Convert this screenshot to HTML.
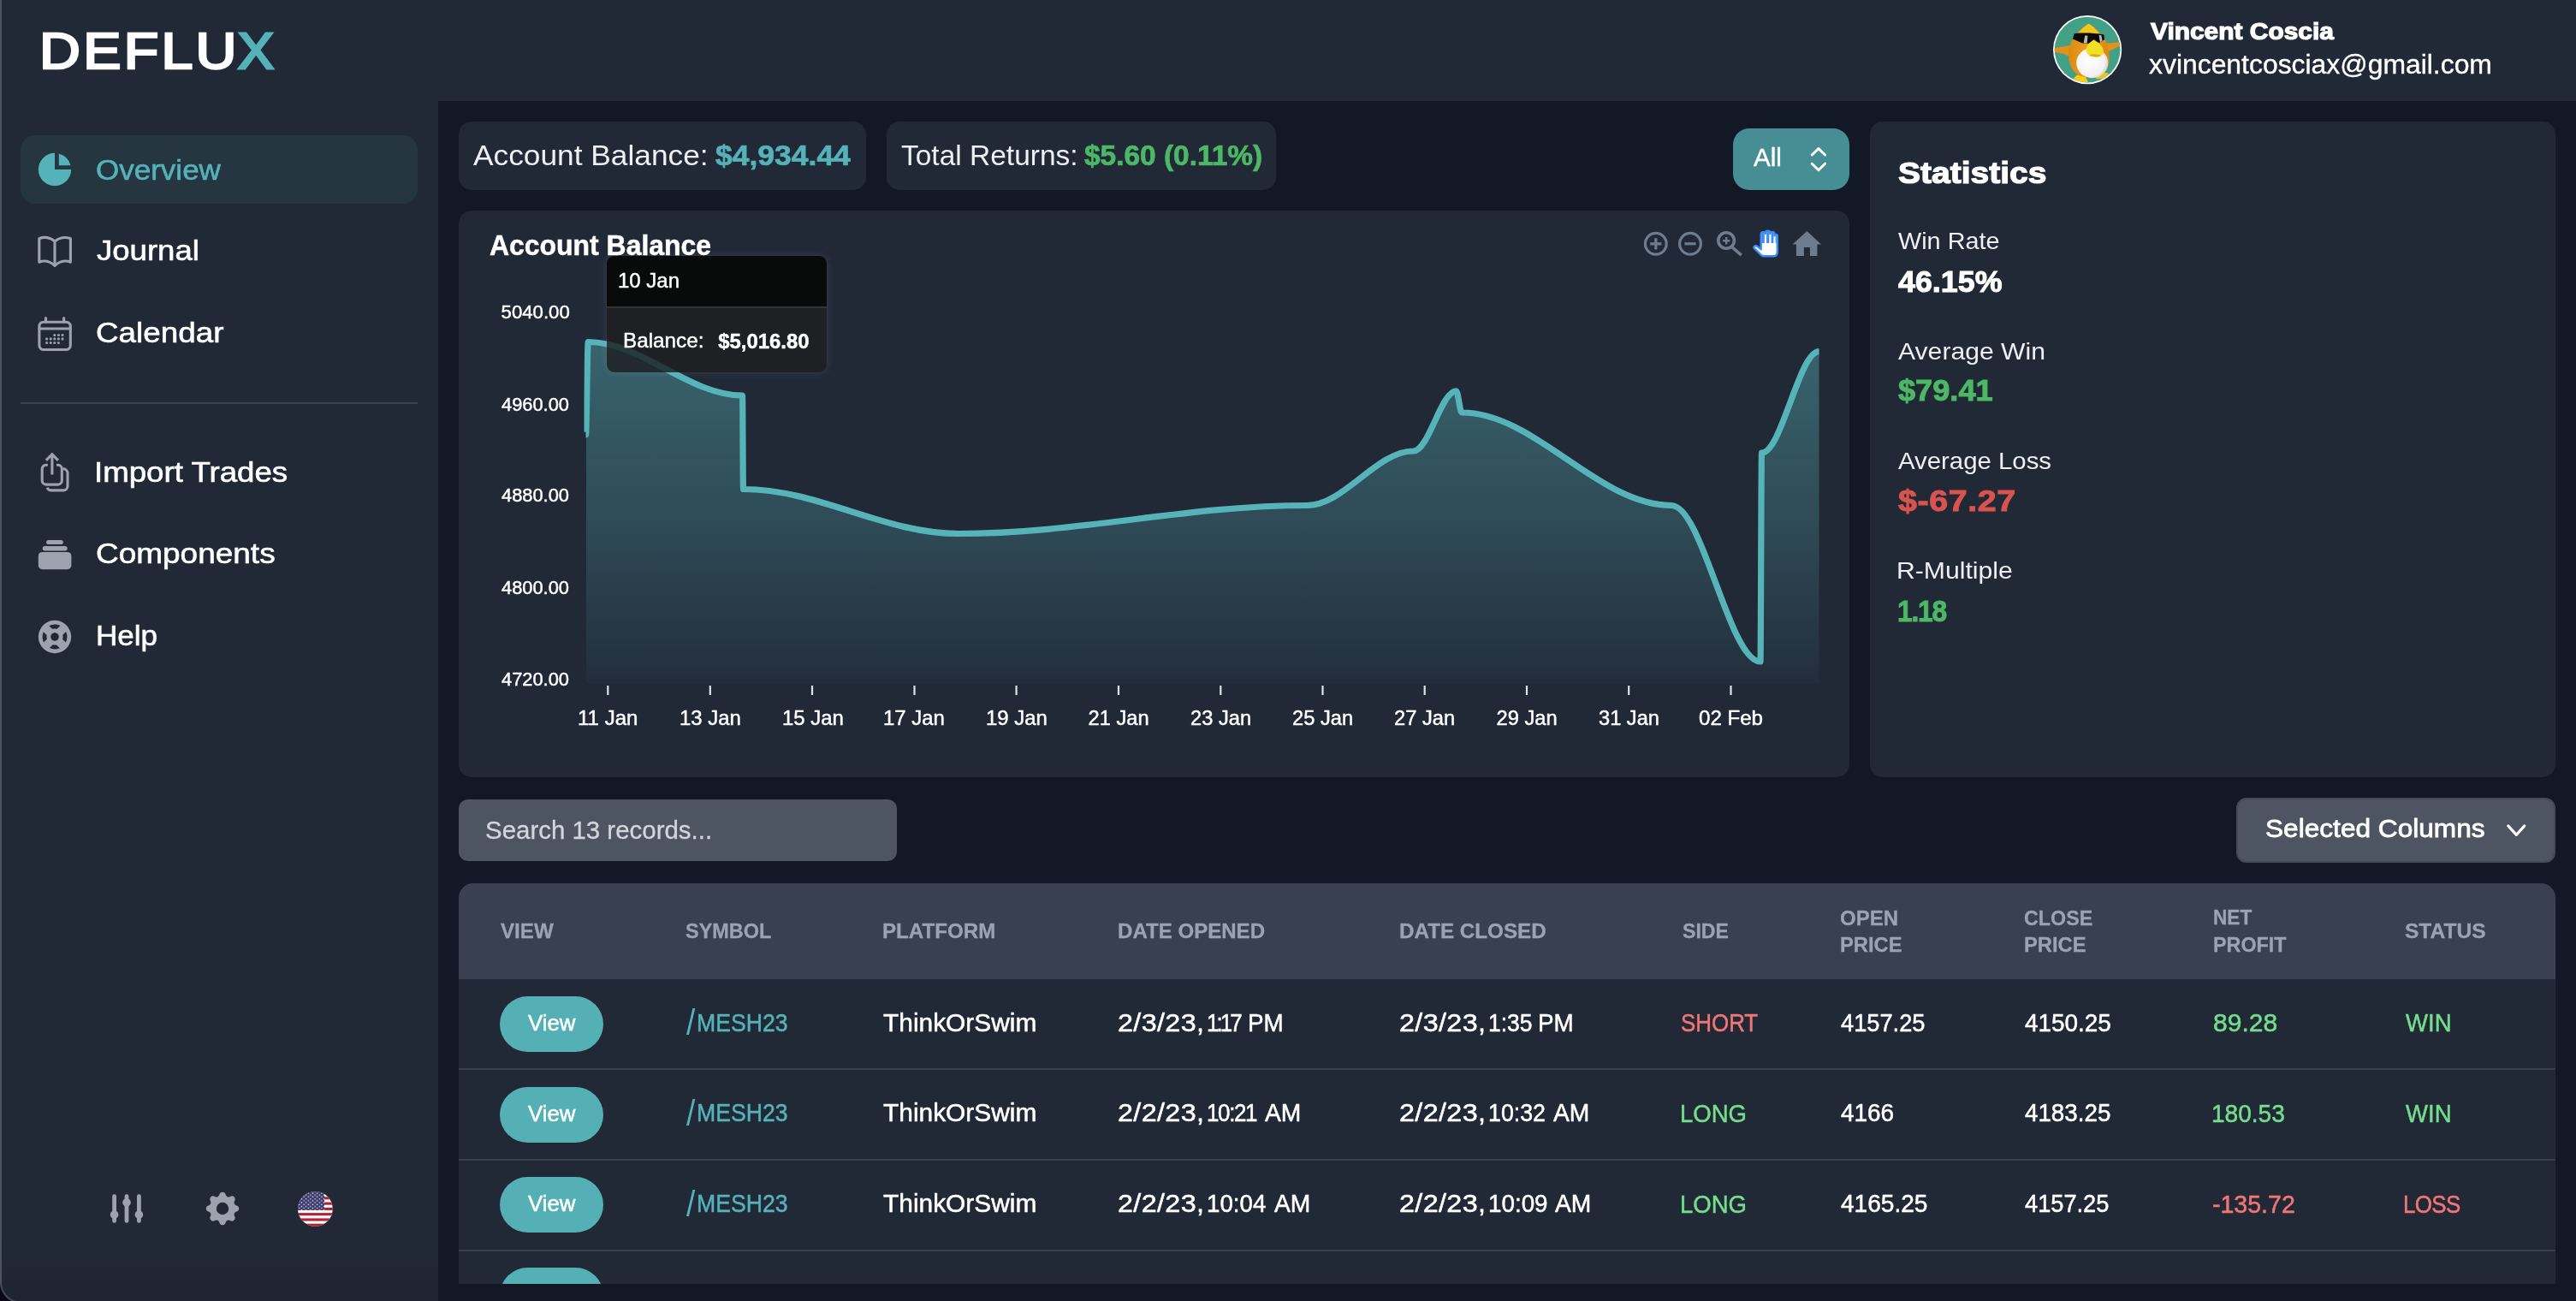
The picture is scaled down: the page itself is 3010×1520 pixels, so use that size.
<!DOCTYPE html>
<html lang="en">
<head>
<meta charset="utf-8">
<title>Deflux - Overview</title>
<style>
*{box-sizing:border-box;margin:0;padding:0}
html,body{width:3010px;height:1520px;overflow:hidden;background:#0a0818}
body{font-family:"Liberation Sans",sans-serif;color:#fff;position:relative}
.abs{position:absolute}
.t{position:absolute;white-space:nowrap;line-height:1;transform-origin:0 0}
#app{position:absolute;left:0;top:0;width:3010px;height:1523px;background:#212836;border-left:2px solid #4b5260;border-bottom:2px solid #4b5260;border-bottom-left-radius:25px;overflow:hidden}
#content{position:absolute;left:510px;top:118px;width:2500px;height:1402px;background:#121826}
.vb{left:48px;width:121px;height:65px;border-radius:33px;background:#55b0b5}
#tx{position:absolute;left:0;top:0;width:3010px;height:1520px;will-change:transform}
.sg{display:inline-block;transform-origin:0 0;line-height:1;vertical-align:top}
.card{position:absolute;background:#212836;border-radius:15px}
svg{position:absolute;overflow:visible}
</style>
</head>
<body>
<div id="app">
<div id="content"></div>
</div>

<!-- ===== sidebar ===== -->
<div class="abs" style="left:24px;top:158px;width:464px;height:80px;border-radius:17px;background:#263641"></div>
<div class="abs" style="left:24px;top:470px;width:464px;height:2px;background:#3a4152"></div>

<div class="abs" style="left:2px;top:1430px;width:510px;height:90px;background:linear-gradient(180deg,rgba(14,14,30,0) 0%,rgba(14,14,30,0.05) 50%,rgba(14,14,30,0.14) 100%)"></div>
<!-- overview pie (48px @ 40,174) -->
<svg style="left:40px;top:174px" width="48" height="48" viewBox="0 0 20 20" fill="#55b2b8"><path d="M2 10a8 8 0 018-8v8h8a8 8 0 11-16 0z"/><path d="M12 2.252A8.014 8.014 0 0117.748 8H12V2.252z"/></svg>
<!-- journal book -->
<svg style="left:0;top:0" width="520" height="800" viewBox="0 0 520 800" fill="none" stroke="#9ca3af" stroke-width="3.1" stroke-linejoin="round" stroke-linecap="round">
<path d="M45.8 278.7C52 276.3 58.5 277.6 64 282C69.5 277.6 76 276.3 82.4 278.7V306.2C76 303.8 69.5 305.3 64 310.4C58.5 305.3 52 303.8 45.8 306.2ZM64 282V310.4"/>
<!-- calendar -->
<rect x="45.9" y="376.2" width="36.4" height="32.3" rx="5"/>
<path d="M45.9 384H82.3M53.5 371.5V376M74.6 371.5V376"/>
<g fill="#9ca3af" stroke="none">
<circle cx="63.8" cy="391.5" r="1.55"/><circle cx="68.4" cy="391.5" r="1.55"/><circle cx="73" cy="391.5" r="1.55"/>
<circle cx="54.6" cy="395.9" r="1.55"/><circle cx="59.2" cy="395.9" r="1.55"/><circle cx="63.8" cy="395.9" r="1.55"/><circle cx="68.4" cy="395.9" r="1.55"/><circle cx="73" cy="395.9" r="1.55"/>
<circle cx="54.6" cy="400.5" r="1.55"/><circle cx="59.2" cy="400.5" r="1.55"/><circle cx="63.8" cy="400.5" r="1.55"/><circle cx="68.4" cy="400.5" r="1.55"/>
</g>
<!-- import trades -->
<path d="M60.9 554.6V531M53.9 537.8L60.9 530.6L67.9 537.8" stroke-linecap="butt" stroke-linejoin="miter"/>
<path d="M55.8 543.2H53.8a4.6 4.6 0 0 0-4.6 4.6V561.5a4.6 4.6 0 0 0 4.6 4.6H67.7a4.6 4.6 0 0 0 4.6-4.6V547.8a4.6 4.6 0 0 0-4.6-4.6H66" stroke-linecap="butt"/>
<path d="M73.6 547.6a5.5 5.5 0 0 1 5.4 5.5V568a4.9 4.9 0 0 1-4.9 4.9H59.8a5 5 0 0 1-4.6-3.2" stroke-linecap="butt"/>
<!-- components -->
<g fill="#9ca3af" stroke="none">
<rect x="54.1" y="630.9" width="19.7" height="5.2" rx="2.6"/>
<rect x="49.7" y="638" width="29" height="5.5" rx="2.75"/>
<rect x="44.8" y="645" width="38.6" height="20.2" rx="4.6"/>
</g>
</svg>
<!-- help lifebuoy -->
<svg style="left:40px;top:720px" width="48" height="48" viewBox="0 0 20 20" fill="#9ca3af"><path fill-rule="evenodd" clip-rule="evenodd" d="M18 10a8 8 0 11-16 0 8 8 0 0116 0zm-2 0c0 .993-.241 1.929-.668 2.754l-1.524-1.525a3.997 3.997 0 00.078-2.183l1.562-1.562C15.802 8.249 16 9.1 16 10zm-5.165 3.913l1.58 1.58A5.98 5.98 0 0110 16a5.976 5.976 0 01-2.516-.552l1.562-1.562a4.006 4.006 0 001.789.027zm-4.677-2.796a4.002 4.002 0 01-.041-2.08l-.08.08-1.53-1.533A5.98 5.98 0 004 10c0 .954.223 1.856.619 2.657l1.54-1.54zm1.088-6.45A5.974 5.974 0 0110 4c.954 0 1.856.223 2.657.619l-1.54 1.54a4.002 4.002 0 00-2.346.033L7.246 4.668zM12 10a2 2 0 11-4 0 2 2 0 014 0z"/></svg>
<!-- bottom: adjustments -->
<svg style="left:124px;top:1388px" width="48" height="48" viewBox="0 0 20 20" fill="#9ca3af"><path d="M5 4a1 1 0 00-2 0v7.268a2 2 0 000 3.464V16a1 1 0 102 0v-1.268a2 2 0 000-3.464V4zM11 4a1 1 0 10-2 0v1.268a2 2 0 000 3.464V16a1 1 0 102 0V8.732a2 2 0 000-3.464V4zM16 3a1 1 0 011 1v7.268a2 2 0 010 3.464V16a1 1 0 11-2 0v-1.268a2 2 0 010-3.464V4a1 1 0 011-1z"/></svg>
<!-- bottom: cog -->
<svg style="left:236px;top:1388px" width="48" height="48" viewBox="0 0 20 20" fill="#9ca3af"><path fill-rule="evenodd" clip-rule="evenodd" d="M11.49 3.17c-.38-1.56-2.6-1.56-2.98 0a1.532 1.532 0 01-2.286.948c-1.372-.836-2.942.734-2.106 2.106.54.886.061 2.042-.947 2.287-1.561.379-1.561 2.6 0 2.978a1.532 1.532 0 01.947 2.287c-.836 1.372.734 2.942 2.106 2.106a1.532 1.532 0 012.287.947c.379 1.561 2.6 1.561 2.978 0a1.533 1.533 0 012.287-.947c1.372.836 2.942-.734 2.106-2.106a1.533 1.533 0 01.947-2.287c1.561-.379 1.561-2.6 0-2.978a1.532 1.532 0 01-.947-2.287c.836-1.372-.734-2.942-2.106-2.106a1.532 1.532 0 01-2.287-.947zM10 13a3 3 0 100-6 3 3 0 000 6z"/></svg>
<!-- bottom: US flag -->
<svg style="left:347.6px;top:1391.6px" width="40.8" height="40.8" viewBox="0 0 40.8 40.8">
<defs><clipPath id="fc"><circle cx="20.4" cy="20.4" r="20.4"/></clipPath>
<pattern id="st" x="0.6" y="0.9" width="5.2" height="4.4" patternUnits="userSpaceOnUse"><circle cx="1.3" cy="1.1" r="0.75" fill="#fff"/><circle cx="3.9" cy="3.3" r="0.75" fill="#fff"/></pattern></defs>
<g clip-path="url(#fc)">
<rect width="40.8" height="40.8" fill="#fff"/>
<g fill="#b22234"><rect y="0" width="41" height="3.14"/><rect y="6.28" width="41" height="3.14"/><rect y="12.55" width="41" height="3.14"/><rect y="18.83" width="41" height="3.14"/><rect y="25.1" width="41" height="3.14"/><rect y="31.4" width="41" height="3.14"/><rect y="37.66" width="41" height="3.14"/></g>
<rect width="31" height="21.97" fill="#3c3b6e"/>
<rect width="31" height="21.97" fill="url(#st)"/>
</g></svg>


<!-- ===== header avatar ===== -->
<svg style="left:2380px;top:0" width="120" height="120" viewBox="0 0 120 120">
<defs><clipPath id="ac"><circle cx="59.1" cy="58.1" r="38.4"/></clipPath>
<radialGradient id="bel" cx="0.4" cy="0.45" r="0.7"><stop offset="0" stop-color="#ffffff"/><stop offset="0.7" stop-color="#f1f1f1"/><stop offset="1" stop-color="#b9b9bd"/></radialGradient>
<linearGradient id="bod" x1="0" y1="0" x2="1" y2="0"><stop offset="0" stop-color="#d98a14"/><stop offset="0.5" stop-color="#f0a01e"/><stop offset="1" stop-color="#d78612"/></linearGradient>
</defs>
<circle cx="59.1" cy="58.1" r="40.1" fill="#fff"/>
<g clip-path="url(#ac)">
<rect x="18" y="17" width="84" height="84" fill="#42a087"/>
<!-- feet -->
<path d="M43 92C46 86 54 85.5 57 90L60 96L45 96Z" fill="#f4cf1c"/>
<path d="M68.5 90C72 85 80 83.5 84 86L80 91L70 92.5Z" fill="#eec417"/>
<!-- arms -->
<path d="M41.5 52.8C34 53.8 27 55 20 56.2L20 60.8C27 61.7 33 63.2 38 65.6Z" fill="#e2921a"/>
<path d="M81 50.6C88 50.2 93 49.6 99 48.8L99 53.2C93 55 88 57.6 83.6 60.8Z" fill="#e2921a"/>
<!-- body -->
<path d="M60.4 27.7C66 30 73 37 78.4 44.3C82 49.5 84.6 58 84.9 67C85 76 82 84 75 88C69 91 56 91.5 49 88C42 84.5 37 75 36.9 65C37 57 39 50 42.5 45C47 38 54 31 60.4 27.7Z" fill="url(#bod)"/>
<!-- head cone -->
<path d="M47.5 40C51 35.5 56 30.5 60.4 27.7C65 30.3 70 35 73.5 40C65 38.5 56 38.5 47.5 40Z" fill="#f6c81b"/>
<!-- belly -->
<ellipse cx="64.8" cy="73.6" rx="18.6" ry="17.6" fill="url(#bel)"/>
<!-- beak -->
<path d="M66.4 47C70 48.5 75 52 76.8 56C78.5 60 78 63.5 75 65.2C71.5 67 65 67 61 64.5C57.5 62 57 58 58.5 54.5C60 51 63.5 48 66.4 47Z" fill="#f3e024"/>
<path d="M61 64.5C65 67 71.5 67 75 65.2C72 63.2 65 62.6 61 64.5Z" fill="#cdb614"/>
<!-- sunglasses -->
<path d="M43.6 39.6L45.5 38.9C56 38.2 68 38.6 78.4 40.4L79 46.2L73 49.9C71 49.6 69.4 48.4 68.2 47L66.4 46.2L63 49L60.6 50.8L53.3 50.4L42 45.4Z" fill="#0b0b0b"/>
<path d="M56.2 41.5L59.5 41.7L58.6 50.5L54.6 50.3Z" fill="#b9b9b9"/>
<path d="M72.6 40.9L75.4 41.3L76.6 47.8L73.8 49.3Z" fill="#b9b9b9"/>
</g>
</svg>


<!-- ===== top cards ===== -->
<div class="card" style="left:536px;top:142px;width:476px;height:80px"></div>
<div class="card" style="left:1036px;top:142px;width:455px;height:80px"></div>
<div class="abs" style="left:2025px;top:150px;width:136px;height:72px;border-radius:19px;background:#468e94"></div>

<!-- ===== chart card ===== -->
<div class="card" style="left:536px;top:246px;width:1625px;height:662px"></div>
<svg style="left:0;top:0" width="3010" height="1000" viewBox="0 0 3010 1000">
<defs><linearGradient id="ag" x1="0" y1="398" x2="0" y2="798" gradientUnits="userSpaceOnUse"><stop offset="0" stop-color="#56b4b9" stop-opacity="0.43"/><stop offset="0.55" stop-color="#56b4b9" stop-opacity="0.24"/><stop offset="1" stop-color="#56b4b9" stop-opacity="0.04"/></linearGradient>
<clipPath id="pc"><rect x="685" y="380" width="1441" height="418"/></clipPath><clipPath id="pl"><rect x="682.5" y="380" width="1443.5" height="420"/></clipPath></defs>
<path d="M684.5 508C685.4 508 686.3 399.5 687.2 399.5C750.3 399.5 804.4 462 867.5 462C867.9 462 868.1 571.5 868.5 571.5C956.5 571.5 1032.0 623.5 1120 623.5C1262.5 623.5 1384.5 590.5 1527 590.5C1570.6 590.5 1608.1 527 1651.7 527C1669.2 527 1684.1 456.8 1701.6 456.8C1703.8 456.8 1705.8 482 1708 482C1793.8 482 1867.2 590.5 1953 590.5C1989.4 590.5 2020.6 773 2057 773C2057.5 773 2058.0 529 2058.5 529C2081.9 529 2102.1 410.7 2125.5 410.7L2125.5 798L683 798Z" fill="url(#ag)" clip-path="url(#pc)"/>
<path d="M684.5 508C685.4 508 686.3 399.5 687.2 399.5C750.3 399.5 804.4 462 867.5 462C867.9 462 868.1 571.5 868.5 571.5C956.5 571.5 1032.0 623.5 1120 623.5C1262.5 623.5 1384.5 590.5 1527 590.5C1570.6 590.5 1608.1 527 1651.7 527C1669.2 527 1684.1 456.8 1701.6 456.8C1703.8 456.8 1705.8 482 1708 482C1793.8 482 1867.2 590.5 1953 590.5C1989.4 590.5 2020.6 773 2057 773C2057.5 773 2058.0 529 2058.5 529C2081.9 529 2102.1 410.7 2125.5 410.7" fill="none" stroke="#56b4b9" stroke-width="7.2" stroke-linejoin="round" stroke-linecap="butt" clip-path="url(#pl)"/>
<path d="M710.3 801V812M829.8 801V812M949 801V812M1068.5 801V812M1187.6 801V812M1307 801V812M1426.3 801V812M1545.5 801V812M1664.7 801V812M1784 801V812M1903.2 801V812M2022.5 801V812" stroke="#dfe2e6" stroke-width="2.2" fill="none"/>
<!-- toolbar -->
<g fill="none" stroke="#6e7c8d" stroke-width="3.2">
<circle cx="1934.8" cy="284.8" r="12.4"/><path d="M1928.2 284.8H1941.4M1934.8 278.2V291.4"/>
<circle cx="1975" cy="284.8" r="12.4"/><path d="M1968.4 284.8H1981.6"/>
<circle cx="2017.1" cy="281" r="9.3" stroke-width="3.6"/><path d="M2013 281.2H2021.4M2017.2 277V285.4" stroke-width="2.4"/><path d="M2024 288.8L2034.8 298.2" stroke-width="3.6"/>
</g>
<path d="M2111.4 269.9L2128 285.6H2123.4V299H2114.9V289.1H2107.9V299H2098.9V285.6H2094.5Z" fill="#6e7c8d"/>
<!-- pan hand -->
<path d="M2049.6 288.2C2050.5 286.9 2052 286.9 2053 287.6L2057.7 291.2V273.8C2057.7 270.6 2062.6 270.6 2062.9 273V272C2063 269 2068.2 269 2068.4 272V273C2068.6 270.2 2073.3 270.2 2073.5 273.2V275.6C2073.6 273.4 2076.8 273.4 2076.8 276V294.5C2076.8 297.5 2075 299.3 2072 299.3H2061.2C2059.8 299.3 2058.8 298.8 2057.8 297.8L2049.8 290.2C2049.2 289.6 2049.2 288.8 2049.6 288.2Z" fill="#fff" stroke="#3d8cf6" stroke-width="2.4" stroke-linejoin="round"/>
<path d="M2058.9 274C2059 271.8 2061.7 271.8 2061.8 274V283.9H2058.9ZM2064.1 272.2C2064.2 270.2 2067.2 270.2 2067.3 272.2V283.9H2064.1ZM2069.6 273.2C2069.7 271.4 2072.3 271.4 2072.4 273.2V283.9H2069.6ZM2074.6 276.2C2074.7 275 2075.7 275 2075.7 276.2V283.9H2074.6Z" fill="#3d8cf6"/>
</svg>
<!-- tooltip -->
<div class="abs" style="left:709px;top:299.4px;width:257px;height:135.4px;border-radius:9px;overflow:hidden;box-shadow:0 0 9px rgba(170,175,200,0.22);background:rgba(29,30,33,0.82)">
<div style="height:60.5px;background:#090a0a;border-bottom:2px solid #333437"></div>
</div>


<!-- ===== stats card ===== -->
<div class="card" style="left:2185px;top:142px;width:801px;height:766px"></div>

<!-- ===== search + columns ===== -->
<div class="abs" style="left:536px;top:934px;width:512px;height:72px;border-radius:11px;background:#4d5462"></div>
<div class="abs" style="left:2613px;top:932px;width:373px;height:76px;border-radius:12px;background:#4d5462;border:2px solid #434a58"></div>
<svg style="left:0;top:0" width="3010" height="1100" viewBox="0 0 3010 1100" fill="none" stroke="#fff" stroke-linecap="round" stroke-linejoin="round">
<path d="M2117.2 181L2124.9 173.6L2132.6 181M2117.2 191.2L2124.9 198.7L2132.6 191.2" stroke-width="3"/>
<path d="M2930.8 964.9L2940.3 975.3L2949.8 964.9" stroke-width="3.2"/>
</svg>


<!-- ===== table ===== -->
<div class="abs" style="left:536px;top:1032px;width:2450px;height:468px;border-radius:17px 17px 0 0;overflow:hidden;background:#212836">
<div class="abs" style="left:0;top:0;width:2450px;height:111.8px;background:#394050"></div>
<div class="abs" style="left:0;top:215.5px;width:2450px;height:2px;background:#394050"></div>
<div class="abs" style="left:0;top:321.7px;width:2450px;height:2px;background:#394050"></div>
<div class="abs" style="left:0;top:427.5px;width:2450px;height:2px;background:#394050"></div>
<div class="abs vb" style="top:132px"></div>
<div class="abs vb" style="top:237.6px"></div>
<div class="abs vb" style="top:343.2px"></div>
<div class="abs vb" style="top:448.8px"></div>
</div>


<!-- ===== texts ===== -->
<div id="tx">
<div class="t" style="left:111.74px;top:181.66px;font-size:33.8px;transform:scaleX(1.0359);color:#55b2b8;-webkit-text-stroke:0.6px #55b2b8;">Overview</div>
<div class="t" style="left:112.77px;top:276.48px;font-size:33.8px;transform:scaleX(1.0816);-webkit-text-stroke:0.6px #fff;">Journal</div>
<div class="t" style="left:111.61px;top:372.48px;font-size:33.8px;transform:scaleX(1.0902);-webkit-text-stroke:0.6px #fff;">Calendar</div>
<div class="t" style="left:110.22px;top:534.89px;font-size:33.8px;transform:scaleX(1.0846);-webkit-text-stroke:0.6px #fff;">Import Trades</div>
<div class="t" style="left:111.57px;top:630.47px;font-size:33.8px;transform:scaleX(1.0939);-webkit-text-stroke:0.6px #fff;">Components</div>
<div class="t" style="left:111.53px;top:726.05px;font-size:33.8px;transform:scaleX(1.0350);-webkit-text-stroke:0.6px #fff;">Help</div>
<div class="t" style="left:2512.58px;top:23.09px;font-size:27.3px;transform:scaleX(1.0957);font-weight:700;-webkit-text-stroke:1.2px #fff;">Vincent Coscia</div>
<div class="t" style="left:2511.28px;top:60.34px;font-size:31px;transform:scaleX(1.0285);-webkit-text-stroke:0.35px #fff;">xvincentcosciax@gmail.com</div>
<div class="t" style="left:553.00px;top:165.34px;font-size:33.2px;transform:scaleX(1.0631);color:#eef0f3;">Account Balance:</div>
<div class="t" style="left:835.54px;top:166.19px;font-size:32.3px;transform:scaleX(1.0986);font-weight:700;color:#55b2b8;-webkit-text-stroke:0.7px #55b2b8;">$4,934.44</div>
<div class="t" style="left:1053.28px;top:165.34px;font-size:33.2px;transform:scaleX(1.0092);color:#eef0f3;">Total Returns:</div>
<div class="t" style="left:1267.00px;top:166.25px;font-size:32.3px;transform:scaleX(1.0349);font-weight:700;color:#4cb866;-webkit-text-stroke:0.7px #4cb866;">$5.60 (0.11%)</div>
<div class="t" style="left:2049.00px;top:170.03px;font-size:28.6px;transform:scaleX(1.0358);-webkit-text-stroke:0.4px #fff;">All</div>
<div class="t" style="left:572.42px;top:270.32px;font-size:33px;transform:scaleX(0.9675);font-weight:700;-webkit-text-stroke:0.5px #fff;">Account Balance</div>
<div class="t" style="left:721.54px;top:316.47px;font-size:23.8px;transform:scaleX(1.0085);-webkit-text-stroke:0.45px #fff;">10 Jan</div>
<div class="t" style="left:728.45px;top:386.30px;font-size:24.1px;transform:scaleX(1.0070);-webkit-text-stroke:0.45px #fff;">Balance:</div>
<div class="t" style="left:839.25px;top:387.27px;font-size:23.9px;font-weight:700;-webkit-text-stroke:0.45px #fff;">$5,016.80</div>
<div class="t" style="left:585.59px;top:354.13px;font-size:22.2px;-webkit-text-stroke:0.45px #fff;">5040.00</div>
<div class="t" style="left:585.97px;top:461.59px;font-size:22.2px;transform:scaleX(0.9844);-webkit-text-stroke:0.45px #fff;">4960.00</div>
<div class="t" style="left:585.97px;top:568.29px;font-size:22.2px;transform:scaleX(0.9844);-webkit-text-stroke:0.45px #fff;">4880.00</div>
<div class="t" style="left:585.97px;top:676.13px;font-size:22.2px;transform:scaleX(0.9844);-webkit-text-stroke:0.45px #fff;">4800.00</div>
<div class="t" style="left:585.97px;top:783.13px;font-size:22.2px;transform:scaleX(0.9844);-webkit-text-stroke:0.45px #fff;">4720.00</div>
<div class="t" style="left:675.48px;top:828.32px;font-size:23.7px;transform:scaleX(1.0150);-webkit-text-stroke:0.45px #fff;">11 Jan</div>
<div class="t" style="left:793.86px;top:828.32px;font-size:23.7px;transform:scaleX(1.0102);-webkit-text-stroke:0.45px #fff;">13 Jan</div>
<div class="t" style="left:913.70px;top:828.32px;font-size:23.7px;transform:scaleX(1.0102);-webkit-text-stroke:0.45px #fff;">15 Jan</div>
<div class="t" style="left:1032.40px;top:828.32px;font-size:23.7px;transform:scaleX(1.0102);-webkit-text-stroke:0.45px #fff;">17 Jan</div>
<div class="t" style="left:1151.82px;top:828.32px;font-size:23.7px;transform:scaleX(1.0102);-webkit-text-stroke:0.45px #fff;">19 Jan</div>
<div class="t" style="left:1271.54px;top:828.32px;font-size:23.7px;-webkit-text-stroke:0.45px #fff;">21 Jan</div>
<div class="t" style="left:1391.00px;top:828.32px;font-size:23.7px;-webkit-text-stroke:0.45px #fff;">23 Jan</div>
<div class="t" style="left:1510.04px;top:828.32px;font-size:23.7px;-webkit-text-stroke:0.45px #fff;">25 Jan</div>
<div class="t" style="left:1629.08px;top:828.32px;font-size:23.7px;-webkit-text-stroke:0.45px #fff;">27 Jan</div>
<div class="t" style="left:1748.54px;top:828.32px;font-size:23.7px;-webkit-text-stroke:0.45px #fff;">29 Jan</div>
<div class="t" style="left:1867.84px;top:828.32px;font-size:23.7px;transform:scaleX(0.9974);-webkit-text-stroke:0.45px #fff;">31 Jan</div>
<div class="t" style="left:1985.41px;top:827.92px;font-size:23.7px;transform:scaleX(1.0171);-webkit-text-stroke:0.45px #fff;">02 Feb</div>
<div class="t" style="left:2217.73px;top:184.54px;font-size:35.4px;transform:scaleX(1.1022);font-weight:700;-webkit-text-stroke:1.2px #fff;">Statistics</div>
<div class="t" style="left:2217.83px;top:267.04px;font-size:28.3px;transform:scaleX(1.0184);color:#eef0f3;">Win Rate</div>
<div class="t" style="left:2217.96px;top:311.06px;font-size:35.2px;transform:scaleX(1.0185);font-weight:700;-webkit-text-stroke:1.0px #fff;">46.15%</div>
<div class="t" style="left:2217.96px;top:395.56px;font-size:28.3px;transform:scaleX(1.0649);color:#eef0f3;">Average Win</div>
<div class="t" style="left:2217.96px;top:438.06px;font-size:35.2px;transform:scaleX(1.0277);font-weight:700;color:#4cb866;-webkit-text-stroke:1.0px #4cb866;">$79.41</div>
<div class="t" style="left:2217.96px;top:523.60px;font-size:28.3px;transform:scaleX(1.0378);color:#eef0f3;">Average Loss</div>
<div class="t" style="left:2217.96px;top:566.52px;font-size:35.2px;letter-spacing:0.510px;transform:scaleX(1.1200);font-weight:700;color:#d9534f;-webkit-text-stroke:1.0px #d9534f;">$-67.27</div>
<div class="t" style="left:2215.56px;top:651.52px;font-size:28.3px;transform:scaleX(1.0662);color:#eef0f3;">R-Multiple</div>
<div class="t" style="left:2216.78px;top:695.52px;font-size:35.2px;letter-spacing:-1.309px;transform:scaleX(0.9000);font-weight:700;color:#4cb866;-webkit-text-stroke:1.0px #4cb866;">1.18</div>
<div class="t" style="left:567.27px;top:955.40px;font-size:30px;transform:scaleX(0.9812);color:#d3d6dc;-webkit-text-stroke:0.3px #d3d6dc;">Search 13 records...</div>
<div class="t" style="left:2647.03px;top:954.28px;font-size:29.2px;transform:scaleX(1.0833);-webkit-text-stroke:0.8px #fff;">Selected Columns</div>
<div class="t" style="left:584.76px;top:1076.35px;font-size:24.7px;transform:scaleX(0.9773);font-weight:700;color:#9ba3b2;-webkit-text-stroke:0.3px #9ba3b2;">VIEW</div>
<div class="t" style="left:801.29px;top:1076.35px;font-size:24.7px;transform:scaleX(0.9503);font-weight:700;color:#9ba3b2;-webkit-text-stroke:0.3px #9ba3b2;">SYMBOL</div>
<div class="t" style="left:1030.67px;top:1076.35px;font-size:24.7px;transform:scaleX(0.9783);font-weight:700;color:#9ba3b2;-webkit-text-stroke:0.3px #9ba3b2;">PLATFORM</div>
<div class="t" style="left:1305.80px;top:1076.35px;font-size:24.7px;transform:scaleX(0.9749);font-weight:700;color:#9ba3b2;-webkit-text-stroke:0.3px #9ba3b2;">DATE OPENED</div>
<div class="t" style="left:1635.21px;top:1076.35px;font-size:24.7px;transform:scaleX(0.9803);font-weight:700;color:#9ba3b2;-webkit-text-stroke:0.3px #9ba3b2;">DATE CLOSED</div>
<div class="t" style="left:1965.67px;top:1076.35px;font-size:24.7px;transform:scaleX(0.9369);font-weight:700;color:#9ba3b2;-webkit-text-stroke:0.3px #9ba3b2;">SIDE</div>
<div class="t" style="left:2150.03px;top:1060.69px;font-size:24.7px;transform:scaleX(0.9729);font-weight:700;color:#9ba3b2;-webkit-text-stroke:0.3px #9ba3b2;">OPEN</div>
<div class="t" style="left:2150.24px;top:1092.23px;font-size:24.7px;transform:scaleX(0.9612);font-weight:700;color:#9ba3b2;-webkit-text-stroke:0.3px #9ba3b2;">PRICE</div>
<div class="t" style="left:2365.14px;top:1060.69px;font-size:24.7px;transform:scaleX(0.9427);font-weight:700;color:#9ba3b2;-webkit-text-stroke:0.3px #9ba3b2;">CLOSE</div>
<div class="t" style="left:2365.32px;top:1092.23px;font-size:24.7px;transform:scaleX(0.9612);font-weight:700;color:#9ba3b2;-webkit-text-stroke:0.3px #9ba3b2;">PRICE</div>
<div class="t" style="left:2585.85px;top:1059.89px;font-size:24.7px;transform:scaleX(0.9183);font-weight:700;color:#9ba3b2;-webkit-text-stroke:0.3px #9ba3b2;">NET</div>
<div class="t" style="left:2585.80px;top:1092.23px;font-size:24.7px;transform:scaleX(0.9450);font-weight:700;color:#9ba3b2;-webkit-text-stroke:0.3px #9ba3b2;">PROFIT</div>
<div class="t" style="left:2810.26px;top:1076.35px;font-size:24.7px;transform:scaleX(0.9943);font-weight:700;color:#9ba3b2;-webkit-text-stroke:0.3px #9ba3b2;">STATUS</div>
<div class="t" style="left:616.92px;top:1183.21px;font-size:25.2px;transform:scaleX(1.0237);-webkit-text-stroke:0.5px #fff;">View</div>
<div class="t" style="left:1031.69px;top:1180.62px;font-size:28.8px;transform:scaleX(1.0378);-webkit-text-stroke:0.5px #fff;">ThinkOrSwim</div>
<div class="t" style="left:1964.33px;top:1181.42px;font-size:28.8px;letter-spacing:-0.013px;transform:scaleX(0.9000);color:#f27676;-webkit-text-stroke:0.5px #f27676;">SHORT</div>
<div class="t" style="left:2151.21px;top:1180.62px;font-size:28.8px;transform:scaleX(0.9458);-webkit-text-stroke:0.5px #fff;">4157.25</div>
<div class="t" style="left:2366.27px;top:1180.62px;font-size:28.8px;transform:scaleX(0.9691);-webkit-text-stroke:0.5px #fff;">4150.25</div>
<div class="t" style="left:2586.04px;top:1181.42px;font-size:28.8px;transform:scaleX(1.0436);color:#75de8c;-webkit-text-stroke:0.5px #75de8c;">89.28</div>
<div class="t" style="left:2810.76px;top:1180.62px;font-size:28.8px;transform:scaleX(0.9563);color:#75de8c;-webkit-text-stroke:0.5px #75de8c;">WIN</div>
<div class="t" style="left:616.92px;top:1288.75px;font-size:25.2px;transform:scaleX(1.0237);-webkit-text-stroke:0.5px #fff;">View</div>
<div class="t" style="left:1031.69px;top:1286.16px;font-size:28.8px;transform:scaleX(1.0378);-webkit-text-stroke:0.5px #fff;">ThinkOrSwim</div>
<div class="t" style="left:1963.31px;top:1286.96px;font-size:28.8px;transform:scaleX(0.9551);color:#75de8c;-webkit-text-stroke:0.5px #75de8c;">LONG</div>
<div class="t" style="left:2151.19px;top:1286.16px;font-size:28.8px;transform:scaleX(0.9701);-webkit-text-stroke:0.5px #fff;">4166</div>
<div class="t" style="left:2366.28px;top:1286.16px;font-size:28.8px;transform:scaleX(0.9638);-webkit-text-stroke:0.5px #fff;">4183.25</div>
<div class="t" style="left:2584.47px;top:1286.96px;font-size:28.8px;transform:scaleX(0.9742);color:#75de8c;-webkit-text-stroke:0.5px #75de8c;">180.53</div>
<div class="t" style="left:2810.76px;top:1286.96px;font-size:28.8px;transform:scaleX(0.9563);color:#75de8c;-webkit-text-stroke:0.5px #75de8c;">WIN</div>
<div class="t" style="left:616.92px;top:1394.29px;font-size:25.2px;transform:scaleX(1.0237);-webkit-text-stroke:0.5px #fff;">View</div>
<div class="t" style="left:1031.69px;top:1391.70px;font-size:28.8px;transform:scaleX(1.0378);-webkit-text-stroke:0.5px #fff;">ThinkOrSwim</div>
<div class="t" style="left:1963.31px;top:1392.50px;font-size:28.8px;transform:scaleX(0.9551);color:#75de8c;-webkit-text-stroke:0.5px #75de8c;">LONG</div>
<div class="t" style="left:2151.19px;top:1391.70px;font-size:28.8px;transform:scaleX(0.9744);-webkit-text-stroke:0.5px #fff;">4165.25</div>
<div class="t" style="left:2366.29px;top:1391.70px;font-size:28.8px;transform:scaleX(0.9451);-webkit-text-stroke:0.5px #fff;">4157.25</div>
<div class="t" style="left:2585.30px;top:1392.50px;font-size:28.8px;transform:scaleX(0.9905);color:#f27676;-webkit-text-stroke:0.5px #f27676;">-135.72</div>
<div class="t" style="left:2808.06px;top:1392.50px;font-size:28.8px;letter-spacing:-0.694px;transform:scaleX(0.9000);color:#f27676;-webkit-text-stroke:0.5px #f27676;">LOSS</div>
<div class="t" style="left:46.12px;top:29.59px;font-size:0;"><span class="sg" style="width:231.40px;font-size:59.2px;transform:scaleX(1.1200);letter-spacing:2.921px;-webkit-text-stroke:2.6px #fff">DEFLU</span><span class="sg" style="width:44.30px;font-size:59.2px;transform:scaleX(1.0626);color:#55b2b8;-webkit-text-stroke:3px #55b2b8">X</span></div>
<div class="t" style="left:802.20px;top:1180.62px;font-size:0;color:#55b2b8;"><span class="sg" style="width:11.72px;font-size:43px;transform:scaleX(0.8599);position:relative;top:-7.32px">/</span><span class="sg" style="width:107.30px;font-size:28.8px;transform:scaleX(0.9246);-webkit-text-stroke:0.5px #55b2b8">MESH23</span></div>
<div class="t" style="left:1305.56px;top:1180.62px;font-size:0;-webkit-text-stroke:0.5px #fff;"><span class="sg" style="width:104.43px;font-size:28.8px;transform:scaleX(1.1200);letter-spacing:0.343px">2/3/23,</span> <span class="sg" style="width:48.34px;font-size:28.8px;transform:scaleX(0.9000);letter-spacing:-3.252px">1:17</span> <span class="sg" style="width:41.40px;font-size:28.8px;transform:scaleX(0.9662)">PM</span></div>
<div class="t" style="left:1634.56px;top:1180.62px;font-size:0;-webkit-text-stroke:0.5px #fff;"><span class="sg" style="width:104.39px;font-size:28.8px;transform:scaleX(1.1200);letter-spacing:0.343px">2/3/23,</span> <span class="sg" style="width:58.38px;font-size:28.8px;transform:scaleX(0.9188)">1:35</span> <span class="sg" style="width:41.40px;font-size:28.8px;transform:scaleX(0.9662)">PM</span></div>
<div class="t" style="left:802.20px;top:1286.32px;font-size:0;color:#55b2b8;"><span class="sg" style="width:11.72px;font-size:43px;transform:scaleX(0.8599);position:relative;top:-7.32px">/</span><span class="sg" style="width:107.30px;font-size:28.8px;transform:scaleX(0.9246);-webkit-text-stroke:0.5px #55b2b8">MESH23</span></div>
<div class="t" style="left:1305.56px;top:1286.32px;font-size:0;-webkit-text-stroke:0.5px #fff;"><span class="sg" style="width:104.43px;font-size:28.8px;transform:scaleX(1.1200);letter-spacing:0.343px">2/2/23,</span> <span class="sg" style="width:68.41px;font-size:28.8px;transform:scaleX(0.9000);letter-spacing:-1.499px">10:21</span> <span class="sg" style="width:44.20px;font-size:28.8px;transform:scaleX(0.9815)">AM</span></div>
<div class="t" style="left:1634.56px;top:1286.32px;font-size:0;-webkit-text-stroke:0.5px #fff;"><span class="sg" style="width:104.37px;font-size:28.8px;transform:scaleX(1.1200);letter-spacing:0.343px">2/2/23,</span> <span class="sg" style="width:75.87px;font-size:28.8px;transform:scaleX(0.9292)">10:32</span> <span class="sg" style="width:44.20px;font-size:28.8px;transform:scaleX(0.9815)">AM</span></div>
<div class="t" style="left:802.20px;top:1392.02px;font-size:0;color:#55b2b8;"><span class="sg" style="width:11.72px;font-size:43px;transform:scaleX(0.8599);position:relative;top:-7.32px">/</span><span class="sg" style="width:107.30px;font-size:28.8px;transform:scaleX(0.9246);-webkit-text-stroke:0.5px #55b2b8">MESH23</span></div>
<div class="t" style="left:1305.56px;top:1392.02px;font-size:0;-webkit-text-stroke:0.5px #fff;"><span class="sg" style="width:104.30px;font-size:28.8px;transform:scaleX(1.1200);letter-spacing:0.343px">2/2/23,</span> <span class="sg" style="width:78.74px;font-size:28.8px;transform:scaleX(0.9613)">10:04</span> <span class="sg" style="width:44.20px;font-size:28.8px;transform:scaleX(0.9815)">AM</span></div>
<div class="t" style="left:1634.56px;top:1392.02px;font-size:0;-webkit-text-stroke:0.5px #fff;"><span class="sg" style="width:104.29px;font-size:28.8px;transform:scaleX(1.1200);letter-spacing:0.343px">2/2/23,</span> <span class="sg" style="width:78.55px;font-size:28.8px;transform:scaleX(0.9654)">10:09</span> <span class="sg" style="width:44.20px;font-size:28.8px;transform:scaleX(0.9815)">AM</span></div>
</div>
<div class="abs" style="left:512px;top:1500px;width:2498px;height:20px;background:#121826"></div>
</body>
</html>
